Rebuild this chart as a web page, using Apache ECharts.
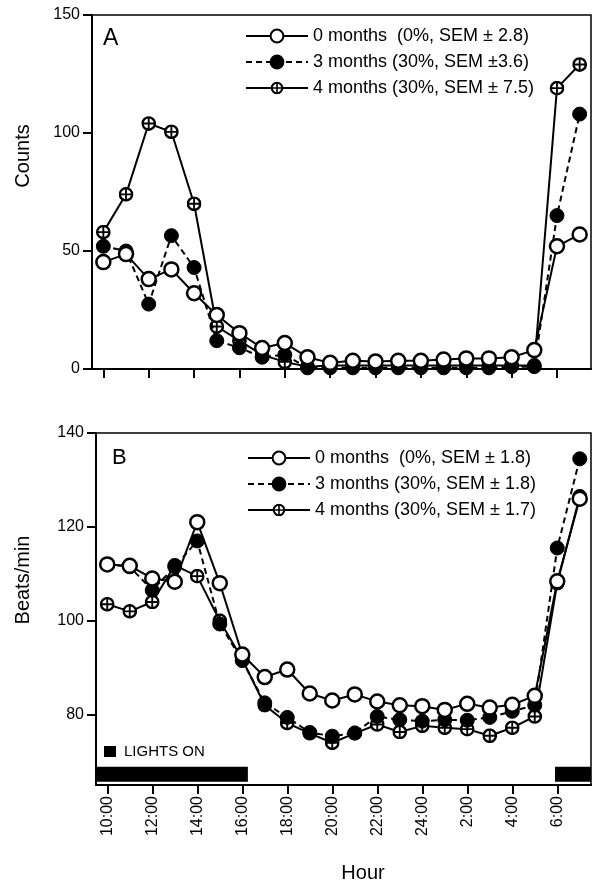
<!DOCTYPE html>
<html>
<head>
<meta charset="utf-8">
<script src="https://cdn.jsdelivr.net/npm/echarts@6/dist/echarts.min.js"></script>
<style>
  html, body { margin: 0; padding: 0; background: #fff; }
  #chart { width: 593px; height: 884px; }
</style>
</head>
<body>
<div id="chart"></div>
<script>
// hours of the day, 10:00 → 7:00 next morning (24 = midnight, 25 = 1:00 ...)
const hours = [10, 11, 12, 13, 14, 15, 16, 17, 18, 19, 20, 21, 22, 23, 24, 25, 26, 27, 28, 29, 30, 31]
const tickHours = [10, 12, 14, 16, 18, 20, 22, 24, 26, 28, 30]

// panel A - activity counts
const countsM0 = [45.3, 48.7, 38.1, 42.2, 32.1, 22.9, 15.2, 8.9, 11, 5, 2.6, 3.5, 3.2, 3.5, 3.5, 4, 4.5, 4.5, 5, 8, 52, 57]
const countsM3 = [52, 50, 27.5, 56.5, 43, 12, 9, 5, 6, 0.5, 0.5, 0.5, 0.5, 0.5, 0.5, 0.5, 0.5, 0.5, 1, 1, 65, 108]
const countsM4 = [58, 74, 104, 100.5, 70, 18, 12, 6, 3, 1, 1.5, 1.5, 1.5, 1.5, 1.5, 1.5, 1.5, 1.5, 1.5, 1.5, 119, 129]
const countsTicks = [0, 50, 100, 150]

// panel B - heart rate
const beatsM0 = [112, 111.7, 109, 108.3, 121, 108, 92.8, 88, 89.6, 84.5, 83, 84.3, 82.8, 82, 81.8, 81, 82.3, 81.5, 82.1, 84, 108.4, 126]
const beatsM3 = [112, 111.5, 106.5, 111.5, 117, 99.3, 91.5, 82.5, 79.4, 76.2, 75.4, 76.1, 79.6, 78.9, 78.6, 78.9, 78.8, 79.4, 80.7, 82, 115.5, 134.5]
const beatsM4 = [103.5, 102, 104, 111.8, 109.5, 100, 91.8, 82, 78.2, 76, 74, 76, 77.9, 76.3, 77.6, 77.2, 76.9, 75.5, 77.2, 79.6, 108, 126.5]
const beatsTicks = [80, 100, 120, 140]

// lights-on periods [start hour, end hour]
const lightsOn = [[9.5, 16.25], [29.9, 31.5]]

const namesA = ['0 months  (0%, SEM \u00b1 2.8)', '3 months (30%, SEM \u00b13.6)', '4 months (30%, SEM \u00b1 7.5)']
const namesB = ['0 months  (0%, SEM \u00b1 1.8)', '3 months (30%, SEM \u00b1 1.8)', '4 months (30%, SEM \u00b1 1.7)']

const FONT = 'Liberation Sans, Arial, sans-serif'

const plusSvg = "<svg xmlns='http://www.w3.org/2000/svg' width='28' height='28' viewBox='0 0 28 28'>" +
  "<circle cx='14' cy='14' r='11.5' fill='white' stroke='black' stroke-width='4.5'/>" +
  "<path d='M14 3V25M3 14H25' stroke='black' stroke-width='3.5'/></svg>"
const plusSymbol = 'image://data:image/svg+xml;charset=utf-8,' + encodeURIComponent(plusSvg)

const pairs = (vals) => hours.map((h, i) => [h, vals[i]])
const hourLabel = (v) => (v <= 24 ? v : v - 24) + ':00'

function makeSeries(idx, names, m0, m3, m4) {
  return [
    {
      name: names[2], type: 'line', xAxisIndex: idx, yAxisIndex: idx,
      data: pairs(m4), symbol: plusSymbol, symbolSize: 15,
      lineStyle: { color: '#000', width: 2 },
      itemStyle: { color: '#000' }, z: 2
    },
    {
      name: names[1], type: 'line', xAxisIndex: idx, yAxisIndex: idx,
      data: pairs(m3), symbol: 'circle', symbolSize: 14,
      lineStyle: { color: '#000', width: 2, type: [6, 4] },
      itemStyle: { color: '#000', borderColor: '#000', borderWidth: 1 }, z: 3
    },
    {
      name: names[0], type: 'line', xAxisIndex: idx, yAxisIndex: idx,
      data: pairs(m0), symbol: 'circle', symbolSize: 14,
      lineStyle: { color: '#000', width: 2 },
      itemStyle: { color: '#fff', borderColor: '#000', borderWidth: 2.5 }, z: 4
    }
  ]
}

const xAxisBase = {
  type: 'value', min: 9.5, max: 31.5,
  axisLine: { lineStyle: { color: '#000', width: 2 } },
  axisTick: { length: 9, lineStyle: { color: '#000', width: 2 }, customValues: tickHours },
  splitLine: { show: false }
}
const yAxisBase = {
  type: 'value',
  axisLine: { show: true, lineStyle: { color: '#000', width: 2 } },
  axisTick: { show: true, length: 9, lineStyle: { color: '#000', width: 2 } },
  axisLabel: { color: '#000', fontSize: 16, fontFamily: FONT, margin: 12 },
  splitLine: { show: false }
}

const legendBase = {
  orient: 'vertical', itemWidth: 62, itemHeight: 16, itemGap: 8,
  textStyle: { color: '#000', fontSize: 18, fontFamily: FONT },
  selectedMode: false
}

const myChart = echarts.init(document.getElementById('chart'), null, { renderer: 'canvas' })

myChart.setOption({
  animation: false,
  backgroundColor: '#fff',
  grid: [
    { left: 92, top: 15, width: 499, height: 354, show: true, borderColor: '#000', borderWidth: 1.5 },
    { left: 96, top: 433, width: 495, height: 352, show: true, borderColor: '#000', borderWidth: 1.5 }
  ],
  xAxis: [
    Object.assign({}, xAxisBase, { gridIndex: 0, axisLabel: { show: false } }),
    Object.assign({}, xAxisBase, {
      gridIndex: 1,
      axisLabel: {
        customValues: tickHours, rotate: 90, margin: 11, color: '#000',
        fontSize: 16, fontFamily: FONT, formatter: hourLabel
      }
    })
  ],
  yAxis: [
    Object.assign({}, yAxisBase, {
      gridIndex: 0, min: 0, max: 150,
      axisTick: Object.assign({}, yAxisBase.axisTick, { customValues: countsTicks }),
      axisLabel: Object.assign({}, yAxisBase.axisLabel, { customValues: countsTicks })
    }),
    Object.assign({}, yAxisBase, {
      gridIndex: 1, min: 65, max: 140,
      axisTick: Object.assign({}, yAxisBase.axisTick, { customValues: beatsTicks }),
      axisLabel: Object.assign({}, yAxisBase.axisLabel, { customValues: beatsTicks })
    })
  ],
  legend: [
    Object.assign({}, legendBase, { left: 240, top: 22, data: namesA }),
    Object.assign({}, legendBase, { left: 242, top: 444, data: namesB })
  ],
  series: [
    ...makeSeries(0, namesA, countsM0, countsM3, countsM4),
    ...makeSeries(1, namesB, beatsM0, beatsM3, beatsM4),
    {
      type: 'custom', xAxisIndex: 1, yAxisIndex: 1, silent: true,
      data: lightsOn,
      renderItem(params, api) {
        const p0 = api.coord([api.value(0), 68.9])
        const p1 = api.coord([api.value(1), 65.7])
        return {
          type: 'rect',
          shape: { x: p0[0], y: p0[1], width: p1[0] - p0[0], height: p1[1] - p0[1] },
          style: { fill: '#000' }
        }
      },
      encode: { x: [0, 1] }
    }
  ],
  graphic: [
    { type: 'text', left: 103, top: 27, style: { text: 'A', fontSize: 23, fontFamily: FONT, fill: '#000' } },
    { type: 'text', left: 112, top: 447, style: { text: 'B', fontSize: 22, fontFamily: FONT, fill: '#000' } },
    { type: 'text', x: 23, y: 156, rotation: Math.PI / 2,
      style: { text: 'Counts', fontSize: 20, fontFamily: FONT, fill: '#000', align: 'center', verticalAlign: 'middle' } },
    { type: 'text', x: 23, y: 580, rotation: Math.PI / 2,
      style: { text: 'Beats/min', fontSize: 20, fontFamily: FONT, fill: '#000', align: 'center', verticalAlign: 'middle' } },
    { type: 'text', x: 363, y: 873,
      style: { text: 'Hour', fontSize: 20, fontFamily: FONT, fill: '#000', align: 'center', verticalAlign: 'middle' } },
    { type: 'rect', shape: { x: 104, y: 746, width: 12, height: 11 }, style: { fill: '#000' } },
    { type: 'text', x: 124, y: 752,
      style: { text: 'LIGHTS ON', fontSize: 15, fontFamily: FONT, fill: '#000', verticalAlign: 'middle' } }
  ]
})
</script>
</body>
</html>
